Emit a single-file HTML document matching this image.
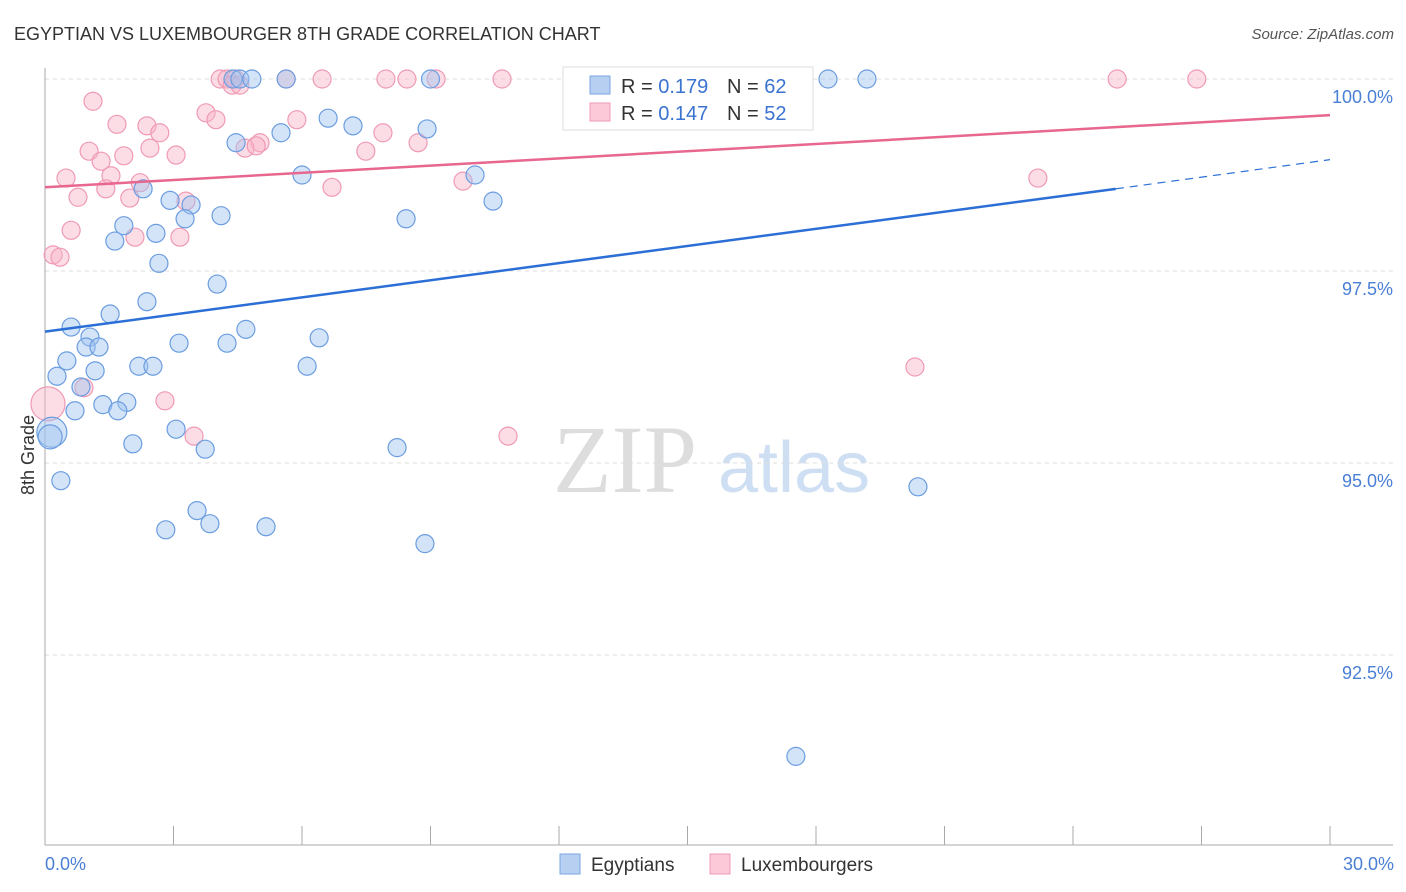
<!DOCTYPE html>
<html><head><meta charset="utf-8"><style>
body{margin:0;background:#fff;font-family:"Liberation Sans",sans-serif;}
svg{display:block}
</style></head><body>
<svg width="1406" height="892">
<text x="14" y="40" font-size="18" fill="#333">EGYPTIAN VS LUXEMBOURGER 8TH GRADE CORRELATION CHART</text>
<text x="1394" y="39" font-size="15" fill="#555" font-style="italic" text-anchor="end">Source: ZipAtlas.com</text>
<g>
<text x="553" y="492" font-size="96" font-family="Liberation Serif,serif" fill="#ddd">ZIP</text>
<text x="718" y="492" font-size="72" fill="#cfdff3">atlas</text>
</g>
<g id="grid"></g>
<g id="axes"></g>
<g id="marks"></g>
<g id="trends"></g>
<text transform="translate(34,455) rotate(-90)" font-size="18" fill="#333" text-anchor="middle">8th Grade</text>
<text x="45" y="870" font-size="18" fill="#4a7fd6">0.0%</text>
<text x="1394" y="870" font-size="18" fill="#4a7fd6" text-anchor="end">30.0%</text>
<g>
<rect x="563" y="67" width="250" height="63" fill="#fff" stroke="#ddd"/>
<rect x="590" y="76" width="20" height="18" fill="#b7d0f2" stroke="#7aa5e3"/>
<rect x="590" y="103" width="20" height="18" fill="#fbc9d8" stroke="#ee9ab5"/>
<text x="621" y="93" font-size="20" fill="#333">R = <tspan fill="#3a73d0">0.179</tspan></text>
<text x="727" y="93" font-size="20" fill="#333">N = <tspan fill="#3a73d0">62</tspan></text>
<text x="621" y="120" font-size="20" fill="#333">R = <tspan fill="#3a73d0">0.147</tspan></text>
<text x="727" y="120" font-size="20" fill="#333">N = <tspan fill="#3a73d0">52</tspan></text>
</g>
<g>
<rect x="560" y="854" width="20" height="20" fill="#b7d0f2" stroke="#7aa5e3"/>
<text x="591" y="871" font-size="19" fill="#333">Egyptians</text>
<rect x="710" y="854" width="20" height="20" fill="#fbc9d8" stroke="#ee9ab5"/>
<text x="741" y="871" font-size="19" fill="#333">Luxembourgers</text>
</g>
</svg>
<script>
const yTicks=[100,97.5,95,92.5];
const yTickLabels=["100.0%","97.5%","95.0%","92.5%"];
const blueX=[4.39,4.55,4.83,5.63,9.0,18.28,19.19,4.46,5.51,6.61,7.19,8.92,6.0,10.04,10.46,8.43,2.29,2.92,3.41,3.27,4.11,1.84,2.59,1.63,2.66,4.02,2.38,1.52,0.61,1.05,0.96,1.26,4.69,6.40,3.13,4.25,0.51,1.17,0.28,2.19,2.52,6.12,0.84,1.35,1.91,1.70,0.70,0.16,0.12,3.06,2.05,3.74,8.22,0.37,20.38,3.55,3.85,5.16,2.82,8.87,17.53];
const blueY=[100,100,100,100,100,100,100,99.17,99.30,99.49,99.39,99.35,98.75,98.75,98.41,98.18,98.57,98.42,98.36,98.18,98.22,98.09,97.99,97.89,97.60,97.33,97.10,96.94,96.77,96.64,96.51,96.51,96.74,96.63,96.56,96.56,96.33,96.20,96.13,96.26,96.26,96.26,95.99,95.76,95.79,95.68,95.68,95.40,95.34,95.44,95.25,95.18,95.20,94.77,94.69,94.38,94.21,94.17,94.13,93.95,91.18];
const pinkX=[4.09,4.25,4.44,5.63,6.47,7.96,8.45,9.13,10.67,25.03,26.89,4.37,4.55,1.12,3.76,3.99,1.68,2.38,2.68,5.88,7.89,5.02,4.67,4.93,8.71,7.49,1.03,1.84,1.31,3.06,0.49,1.54,2.45,2.22,1.42,6.70,9.76,23.18,0.77,1.98,3.29,0.61,3.15,2.10,0.19,0.35,0.07,0.91,2.80,3.48,10.81,20.31];
const pinkY=[100,100,100,100,100,100,100,100,100,100,100,99.92,99.92,99.71,99.56,99.47,99.41,99.39,99.30,99.47,99.30,99.17,99.10,99.13,99.17,99.06,99.06,99.00,98.93,99.01,98.71,98.74,99.10,98.65,98.57,98.59,98.67,98.71,98.46,98.45,98.41,98.03,97.94,97.94,97.71,97.68,95.77,95.98,95.81,95.35,95.35,96.25];
const blueBig=[47,48];
const pinkBig=[46];
const blueTrend=[0,96.71,25,98.57,30,98.95];
const pinkTrend=[0,98.59,30,99.53];
const NS="http://www.w3.org/2000/svg";
const sx=v=>45+v/30*1285;
const sy=v=>79+(100-v)*76.8;
function mk(tag,attrs,parent){const e=document.createElementNS(NS,tag);for(const k in attrs)e.setAttribute(k,attrs[k]);parent.appendChild(e);return e;}
const grid=document.getElementById('grid'),axes=document.getElementById('axes'),marks=document.getElementById('marks'),trends=document.getElementById('trends');
yTicks.forEach((t,i)=>{
 const l=mk('line',{x1:45,x2:1393,y1:sy(t),y2:sy(t),stroke:'#ddd','stroke-dasharray':'4,4'},grid);
 
 
 const tx=mk('text',{x:1393,y:sy(t)+24,'font-size':18,fill:'#4a7fd6','text-anchor':'end'},grid);
 tx.textContent=yTickLabels[i];
 
 
});
let a=mk('line',{x1:45,x2:45,y1:68,y2:845,stroke:'#aaa'},axes);


a=mk('line',{x1:45,x2:1393,y1:845,y2:845,stroke:'#aaa'},axes);


for(let i=1;i<=10;i++){
 const t=mk('line',{x1:sx(i*3),x2:sx(i*3),y1:826,y2:845,stroke:'#aaa'},axes);
 
 
}
pinkX.forEach((x,i)=>{
 const c=mk('circle',{cx:sx(x),cy:sy(pinkY[i]),r:pinkBig.includes(i)?17:9,fill:'rgba(248,180,200,0.45)',stroke:'#ef9ab5','stroke-width':1.2},marks);
 
 
});
blueX.forEach((x,i)=>{
 const c=mk('circle',{cx:sx(x),cy:sy(blueY[i]),r:blueBig.includes(i)?(i==47?15:12):9,fill:'rgba(160,195,240,0.45)',stroke:'#6b9de0','stroke-width':1.2},marks);
 
 
});
let tl=mk('line',{x1:sx(blueTrend[0]),y1:sy(blueTrend[1]),x2:sx(blueTrend[2]),y2:sy(blueTrend[3]),stroke:'#2b6fd6','stroke-width':2.5},trends);


tl=mk('line',{x1:sx(blueTrend[2]),y1:sy(blueTrend[3]),x2:sx(blueTrend[4]),y2:sy(blueTrend[5]),stroke:'#2b6fd6','stroke-width':1.2,'stroke-dasharray':'8,6'},trends);


tl=mk('line',{x1:sx(pinkTrend[0]),y1:sy(pinkTrend[1]),x2:sx(pinkTrend[2]),y2:sy(pinkTrend[3]),stroke:'#e8678f','stroke-width':2.5},trends);


</script>
</body></html>
